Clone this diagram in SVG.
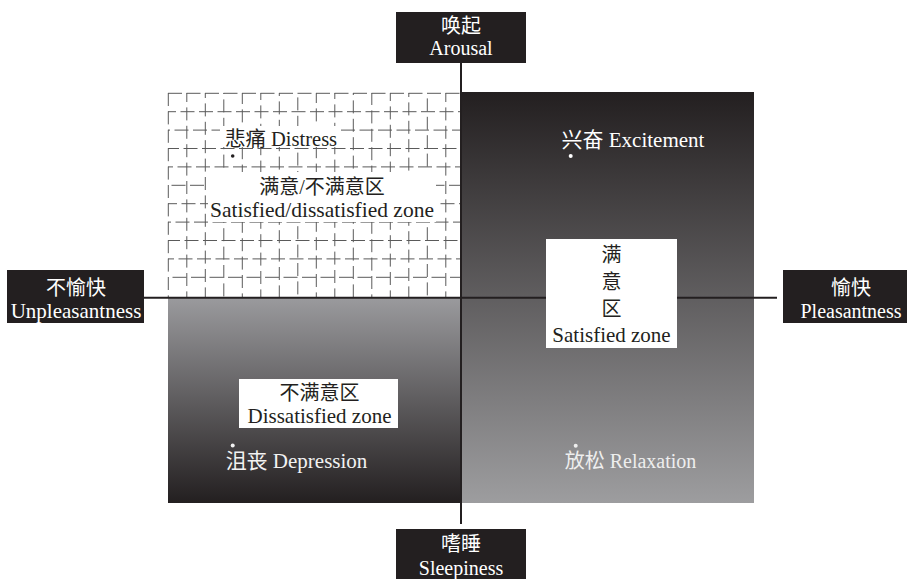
<svg xmlns="http://www.w3.org/2000/svg" width="910" height="579" viewBox="0 0 910 579">
<defs>
<linearGradient id="gR" x1="0" y1="0" x2="0" y2="1"><stop offset="0" stop-color="#231f20"/><stop offset="1" stop-color="#9d9d9f"/></linearGradient>
<linearGradient id="gL" x1="0" y1="0" x2="0" y2="1"><stop offset="0" stop-color="#9a9a9d"/><stop offset="1" stop-color="#231f20"/></linearGradient>
<style>
text{font-family:"Liberation Serif","Noto Sans CJK SC",serif;font-size:20px;text-anchor:middle}
.w{fill:#ffffff}
.k{fill:#231f20}
.lbl{fill:#231f20}
.gv{stroke:#5a5a5a;stroke-width:1;stroke-dasharray:13 5.4}
.gh{stroke:#5a5a5a;stroke-width:1;stroke-dasharray:14 4.5}
.axis{stroke:#231f20;stroke-width:2}
.box{fill:#ffffff}
</style>
</defs>
<rect width="910" height="579" fill="#ffffff"/>
<g id="quadrants">
<rect x="461" y="92" width="293" height="411" fill="url(#gR)"/>
<rect x="168" y="298" width="293" height="205" fill="url(#gL)"/>
</g>
<g id="grid">
<line class="gv" x1="168.3" y1="93" x2="168.3" y2="297"/>
<line class="gv" x1="186.8" y1="93" x2="186.8" y2="297" stroke-dashoffset="4"/>
<line class="gv" x1="205.3" y1="93" x2="205.3" y2="297" stroke-dashoffset="8"/>
<line class="gv" x1="223.8" y1="93" x2="223.8" y2="297" stroke-dashoffset="12"/>
<line class="gv" x1="242.3" y1="93" x2="242.3" y2="297" stroke-dashoffset="2"/>
<line class="gv" x1="260.8" y1="93" x2="260.8" y2="297" stroke-dashoffset="6"/>
<line class="gv" x1="279.3" y1="93" x2="279.3" y2="297" stroke-dashoffset="10"/>
<line class="gv" x1="297.8" y1="93" x2="297.8" y2="297" stroke-dashoffset="14"/>
<line class="gv" x1="316.3" y1="93" x2="316.3" y2="297" stroke-dashoffset="3"/>
<line class="gv" x1="334.8" y1="93" x2="334.8" y2="297" stroke-dashoffset="7"/>
<line class="gv" x1="353.3" y1="93" x2="353.3" y2="297" stroke-dashoffset="11"/>
<line class="gv" x1="371.8" y1="93" x2="371.8" y2="297" stroke-dashoffset="1"/>
<line class="gv" x1="390.3" y1="93" x2="390.3" y2="297" stroke-dashoffset="5"/>
<line class="gv" x1="408.8" y1="93" x2="408.8" y2="297" stroke-dashoffset="9"/>
<line class="gv" x1="427.3" y1="93" x2="427.3" y2="297" stroke-dashoffset="13"/>
<line class="gv" x1="445.8" y1="93" x2="445.8" y2="297" stroke-dashoffset="4"/>
<line class="gh" x1="168" y1="93.3" x2="460" y2="93.3"/>
<line class="gh" x1="168" y1="111.7" x2="460" y2="111.7" stroke-dashoffset="6"/>
<line class="gh" x1="168" y1="130.1" x2="460" y2="130.1" stroke-dashoffset="12"/>
<line class="gh" x1="168" y1="148.5" x2="460" y2="148.5" stroke-dashoffset="3"/>
<line class="gh" x1="168" y1="166.9" x2="460" y2="166.9" stroke-dashoffset="9"/>
<line class="gh" x1="168" y1="185.3" x2="460" y2="185.3" stroke-dashoffset="15"/>
<line class="gh" x1="168" y1="203.7" x2="460" y2="203.7" stroke-dashoffset="5"/>
<line class="gh" x1="168" y1="222.1" x2="460" y2="222.1" stroke-dashoffset="11"/>
<line class="gh" x1="168" y1="240.5" x2="460" y2="240.5" stroke-dashoffset="2"/>
<line class="gh" x1="168" y1="258.9" x2="460" y2="258.9" stroke-dashoffset="8"/>
<line class="gh" x1="168" y1="277.3" x2="460" y2="277.3" stroke-dashoffset="14"/>
</g>
<g id="connectors">
<line class="axis" x1="144" y1="297.7" x2="777" y2="297.7"/>
<line class="axis" x1="461" y1="63" x2="461" y2="524"/>
</g>
<g id="arousal">
<rect class="lbl" x="396" y="12" width="130" height="51"/>
<text class="w" x="461" y="33">唤起</text>
<text class="w" x="461" y="55">Arousal</text>
</g>
<g id="sleepiness">
<rect class="lbl" x="396" y="529" width="130" height="50"/>
<text class="w" x="461" y="551">嗜睡</text>
<text class="w" x="461" y="575">Sleepiness</text>
</g>
<g id="unpleasantness">
<rect class="lbl" x="7" y="270" width="137" height="53"/>
<text class="w" x="76" y="295">不愉快</text>
<text class="w" x="76" y="317.5" style="font-size:21px">Unpleasantness</text>
</g>
<g id="pleasantness">
<rect class="lbl" x="783" y="270" width="124" height="53"/>
<text class="w" x="851" y="295">愉快</text>
<text class="w" x="851" y="317.5">Pleasantness</text>
</g>
<g id="distress">
<rect class="box" x="220" y="126" width="118" height="21"/>
<text class="k" x="281" y="145.5" style="font-size:20.5px">悲痛 Distress</text>
<circle cx="232.7" cy="156" r="1.8" fill="#231f20"/>
</g>
<g id="mixed-zone">
<rect class="box" x="208" y="172" width="228" height="50"/>
<text class="k" x="322" y="194" style="font-size:20px">满意/不满意区</text>
<text class="k" x="322" y="217" style="font-size:21.5px">Satisfied/dissatisfied zone</text>
</g>
<g id="excitement">
<text class="w" x="633" y="146.5" style="font-size:21px">兴奋 Excitement</text>
<circle cx="570.7" cy="156" r="2" fill="#ffffff"/>
</g>
<g id="satisfied-zone">
<rect class="box" x="546" y="239" width="131" height="109"/>
<text class="k" x="611.5" y="262">满</text>
<text class="k" x="611.5" y="289">意</text>
<text class="k" x="611.5" y="315.5">区</text>
<text class="k" x="611.5" y="341.5" style="font-size:21px">Satisfied zone</text>
</g>
<g id="dissatisfied-zone">
<rect class="box" x="239" y="379" width="159" height="49"/>
<text class="k" x="319.5" y="399.5" style="font-size:20px">不满意区</text>
<text class="k" x="319.5" y="423" style="font-size:21px">Dissatisfied zone</text>
</g>
<g id="depression">
<text class="w" x="296.5" y="468" style="font-size:21px;fill:#f2f2f2">沮丧  Depression</text>
<circle cx="232.7" cy="445.5" r="2" fill="#f2f2f2"/>
</g>
<g id="relaxation">
<text x="630.5" y="468" style="font-size:20px;fill:#eeeeee">放松  Relaxation</text>
<circle cx="575.7" cy="445.7" r="2" fill="#eeeeee"/>
</g>
</svg>
